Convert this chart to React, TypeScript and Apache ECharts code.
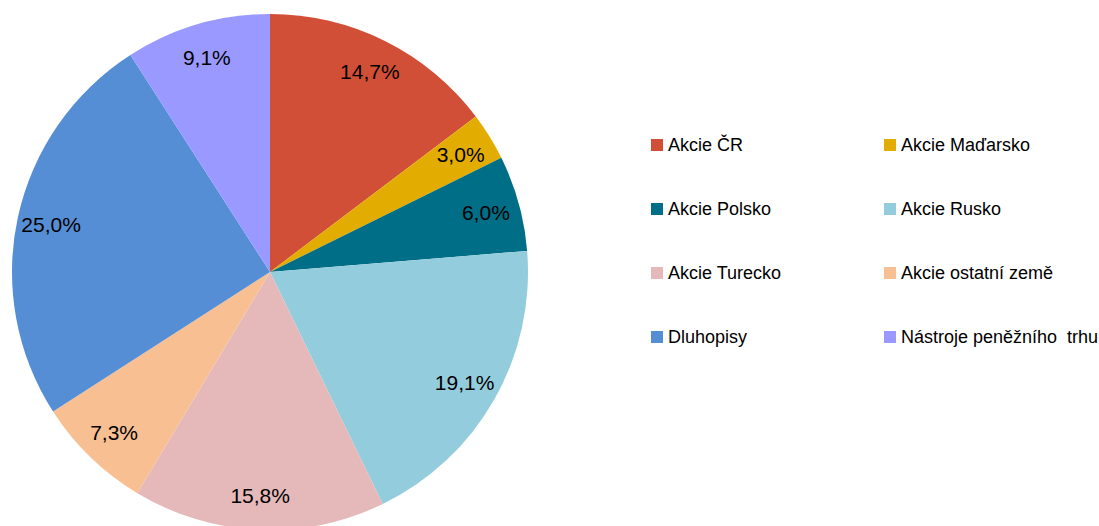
import React, { useEffect, useRef } from "react";
import * as echarts from "echarts";

const categories = [
  "Akcie ČR",
  "Akcie Maďarsko",
  "Akcie Polsko",
  "Akcie Rusko",
  "Akcie Turecko",
  "Akcie ostatní země",
  "Dluhopisy",
  "Nástroje peněžního  trhu",
];
const values = [14.7, 3.0, 6.0, 19.1, 15.8, 7.3, 25.0, 9.1];
const colors = ["#D24F37", "#E2AD00", "#006E87", "#93CDDD", "#E5B9B9", "#F8C092", "#558ED5", "#9999FF"];
const legendLeftCol = [categories[0], categories[2], categories[4], categories[6]];
const legendRightCol = [categories[1], categories[3], categories[5], categories[7]];

const FONT = 'Arial, "Liberation Sans", sans-serif';

export default function App() {
  const ref = useRef<HTMLDivElement>(null);
  useEffect(() => {
    if (!ref.current) return;
    const chart = echarts.init(ref.current, null, { renderer: "svg" });
    const data = categories.map((name, i) => ({
      name,
      value: values[i],
      itemStyle: { color: colors[i] },
    }));
    const legendCommon = {
      orient: "vertical" as const,
      top: 131,
      itemWidth: 12,
      itemHeight: 12,
      itemGap: 46,
      icon: "rect",
      selectedMode: false,
      textStyle: { fontFamily: FONT, fontSize: 18, color: "#000", lineHeight: 16 },
    };
    chart.setOption({
      animation: false,
      backgroundColor: "#fff",
      legend: [
        { ...legendCommon, left: 646, data: legendLeftCol },
        { ...legendCommon, left: 879, data: legendRightCol },
      ],
      series: [
        {
          type: "pie",
          center: [270, 272],
          radius: [0, 258],
          startAngle: 90,
          clockwise: true,
          label: { show: false },
          labelLine: { show: false },
          silent: true,
          data,
        },
        {
          type: "pie",
          center: [270, 272],
          radius: [184, 258],
          startAngle: 90,
          clockwise: true,
          silent: true,
          legendHoverLink: false,
          itemStyle: { color: "rgba(0,0,0,0)" },
          label: {
            show: true,
            position: "inside",
            fontFamily: FONT,
            fontSize: 21,
            color: "#000",
            formatter: (p: any) => p.value.toFixed(1).replace(".", ",") + "%",
          },
          labelLine: { show: false },
          data: categories.map((name, i) => ({ name, value: values[i] })),
        },
      ],
    });
    return () => chart.dispose();
  }, []);
  return (
    <div
      ref={ref}
      style={{ position: "fixed", left: 0, top: 0, width: 1099, height: 526 }}
    />
  );
}
